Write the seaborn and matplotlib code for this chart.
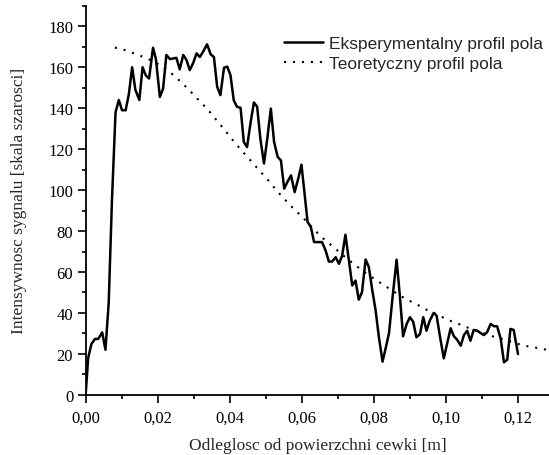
import matplotlib
matplotlib.use("Agg")
import matplotlib.pyplot as plt
import seaborn as sns
import pandas as pd
from matplotlib.ticker import MultipleLocator, FuncFormatter

# Experimental profile (distance [m], intensity)
exp_x = [0.0000, 0.0007, 0.0016, 0.0026, 0.0035, 0.0046, 0.0055, 0.0064, 0.0073, 0.0083,
         0.0092, 0.0101, 0.0111, 0.0120, 0.0129, 0.0138, 0.0149, 0.0158, 0.0167, 0.0176,
         0.0187, 0.0195, 0.0206, 0.0215, 0.0224, 0.0234, 0.0243, 0.0252, 0.0261, 0.0271,
         0.0280, 0.0289, 0.0298, 0.0308, 0.0317, 0.0326, 0.0337, 0.0347, 0.0356, 0.0365,
         0.0374, 0.0384, 0.0393, 0.0402, 0.0411, 0.0420, 0.0430, 0.0439, 0.0448, 0.0458,
         0.0467, 0.0476, 0.0485, 0.0495, 0.0504, 0.0514, 0.0523, 0.0533, 0.0542, 0.0551,
         0.0560, 0.0570, 0.0580, 0.0590, 0.0599, 0.0608, 0.0616, 0.0625, 0.0634, 0.0645,
         0.0656, 0.0666, 0.0675, 0.0684, 0.0694, 0.0703, 0.0712, 0.0721, 0.0730, 0.0740,
         0.0749, 0.0758, 0.0767, 0.0777, 0.0786, 0.0795, 0.0805, 0.0814, 0.0824, 0.0833,
         0.0842, 0.0852, 0.0863, 0.0872, 0.0881, 0.0891, 0.0900, 0.0909, 0.0918, 0.0928,
         0.0937, 0.0946, 0.0955, 0.0966, 0.0974, 0.0983, 0.0994, 0.1003, 0.1013, 0.1022,
         0.1031, 0.1041, 0.1050, 0.1059, 0.1068, 0.1077, 0.1087, 0.1096, 0.1105, 0.1114,
         0.1124, 0.1133, 0.1142, 0.1152, 0.1161, 0.1170, 0.1179, 0.1188, 0.1200]
exp_y = [0, 18, 24.8, 27.3, 27.3, 30.5, 22, 45, 95, 138,
         144, 139, 139, 147, 160, 149, 144, 160, 156, 154.5,
         169.5, 164, 145.5, 149.6, 166, 164, 164.3, 164.6, 159, 166,
         163.5, 158.6, 161.9, 166.8, 165, 167.6, 171.2, 166.3, 165, 150.5,
         146.4, 159.8, 160.3, 156.1, 143.9, 140.7, 140.2, 123.5, 121, 133.3,
         142.8, 140.7, 125, 113, 125, 139.8, 123.5, 116.2, 114.5, 100.7,
         104, 107.2, 99, 105.6, 112.4, 97.4, 84.4, 82, 74.6, 74.6,
         74.6, 70.5, 65.1, 65.1, 67.2, 64, 68, 78.2, 66.4, 53.4,
         55.8, 46.5, 50.1, 66.1, 62.4, 51.7, 41, 28, 16.2, 23,
         30.2, 48, 66, 48.5, 28.6, 34.6, 37.9, 35.7, 28.1, 29.7,
         37.9, 31.3, 36.2, 40, 38.7, 28.9, 17.8, 24.8, 32.5, 28.6,
         26.9, 24, 29.2, 31.3, 26.4, 31.7, 31.3, 30.2, 29.2, 30.5,
         34.6, 33.5, 33.5, 27.3, 15.9, 17.1, 32.2, 31.7, 19.9]

# Theoretical profile
th_x = [0.0081, 0.0109, 0.0134, 0.0159, 0.0187, 0.0213, 0.0238, 0.0266, 0.0292, 0.0317,
        0.0343, 0.0366, 0.0389, 0.0411, 0.0435, 0.0459, 0.0482, 0.0507, 0.0530, 0.0555,
        0.0579, 0.0606, 0.0632, 0.0657, 0.0685, 0.0711, 0.0738, 0.0764, 0.0791, 0.0818,
        0.0844, 0.0872, 0.0898, 0.0925, 0.0951, 0.0978, 0.1004, 0.1031, 0.1058, 0.1085,
        0.1111, 0.1138, 0.1163, 0.1191, 0.1217, 0.1250, 0.1283]
th_y = [169.6, 168.4, 166.8, 165.1, 163.0, 160.3, 157.0, 152.6, 148.0, 143.4,
        138.5, 133.6, 128.7, 123.8, 118.9, 114.2, 109.6, 104.7, 99.8, 95.0,
        90.6, 86.0, 81.1, 76.7, 72.6, 68.6, 64.8, 61.2, 57.8, 54.7,
        51.7, 48.5, 46.0, 43.6, 41.1, 39.0, 36.7, 34.9, 33.0, 31.3,
        29.6, 28.1, 26.9, 25.3, 24.0, 23.0, 21.9]

labels = ["Eksperymentalny profil pola", "Teoretyczny profil pola"]
xlabel = "Odleglosc od powierzchni cewki [m]"
ylabel = "Intensywnosc sygnalu [skala szarosci]"

sns.set_style("ticks")
plt.rcParams["font.family"] = ["Liberation Serif", "DejaVu Serif"]

fig = plt.figure(figsize=(5.49, 4.56), dpi=100)
ax = fig.add_axes([0.156, 0.132, 0.844, 0.853])

df_exp = pd.DataFrame({"x": exp_x, "y": exp_y})
df_th = pd.DataFrame({"x": th_x, "y": th_y})

sns.lineplot(data=df_exp, x="x", y="y", ax=ax, color="black", linewidth=1.8,
             estimator=None, sort=False, label=labels[0])
sns.lineplot(data=df_th, x="x", y="y", ax=ax, color="black", linewidth=1.5,
             linestyle=(0, (1, 3.3)), estimator=None, sort=False, label=labels[1])

ax.set_xlim(0, 0.1286)
ax.set_ylim(0, 190)
ax.xaxis.set_major_locator(MultipleLocator(0.02))
ax.xaxis.set_minor_locator(MultipleLocator(0.01))
ax.yaxis.set_major_locator(MultipleLocator(20))
ax.yaxis.set_minor_locator(MultipleLocator(10))
ax.xaxis.set_major_formatter(FuncFormatter(lambda v, p: f"{v:.2f}".replace(".", ",")))
ax.yaxis.set_major_formatter(FuncFormatter(lambda v, p: f"{v:.0f}"))

for s in ["top", "right"]:
    ax.spines[s].set_visible(False)
for s in ["left", "bottom"]:
    ax.spines[s].set_linewidth(1.3)
    ax.spines[s].set_color("black")

ax.tick_params(axis="both", which="major", direction="out", length=5.5, width=1.2,
               labelsize=12, colors="black")
ax.tick_params(axis="x", which="major", pad=5)
ax.tick_params(axis="y", which="major", pad=3.5)
ax.tick_params(axis="both", which="minor", direction="out", length=3, width=1.2, colors="black")

ax.set_xlabel(xlabel, fontsize=12.5, labelpad=8.5)
ax.set_ylabel(ylabel, fontsize=12.5, labelpad=15)

leg = ax.legend(loc="upper left", bbox_to_anchor=(0.428, 0.922), frameon=False,
                handlelength=2.25, handletextpad=0.35, labelspacing=0.25,
                prop={"family": ["Liberation Sans", "DejaVu Sans"], "size": 12.5},
                borderaxespad=0, borderpad=0)

fig.savefig("out.png", dpi=100)
